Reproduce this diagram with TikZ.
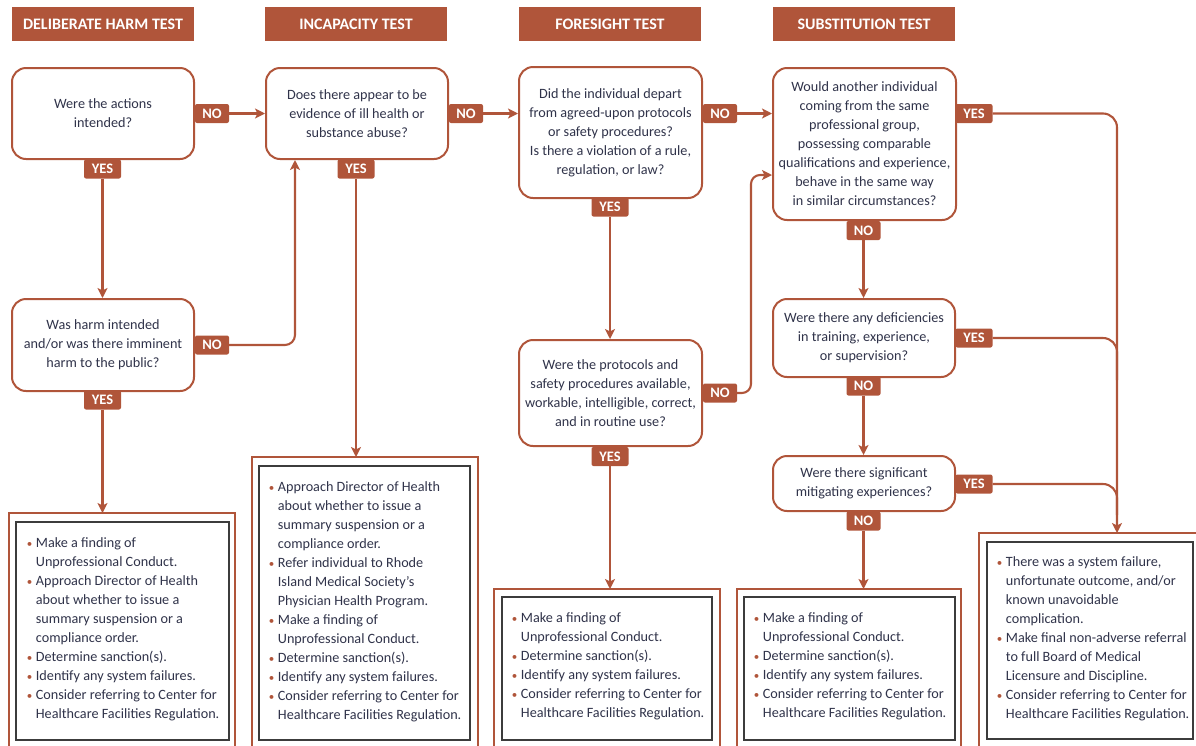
\documentclass[tikz,border=0pt]{standalone}
\usepackage{fontspec}
\setmainfont{Carlito}
\usetikzlibrary{arrows.meta,calc}
\definecolor{rust}{HTML}{B0553A}
\definecolor{ink}{HTML}{30334A}
\definecolor{dgray}{HTML}{3C3C3C}
\newcommand{\itemdot}{\makebox[9pt][l]{\textcolor{rust}{\fontsize{11}{11}\selectfont\textbullet}}}
\newcommand{\itemind}{\hspace*{9pt}}
\begin{document}
\begin{tikzpicture}[x=1pt,y=-1pt,
  dec/.style={draw=rust, line width=2pt, rounded corners=14pt, fill=white, align=center, inner sep=0pt, text=ink, font=\fontsize{14.2}{19}\selectfont},
  badge/.style={fill=rust, rounded corners=2pt, text=white, font=\bfseries\fontsize{14.5}{15}\selectfont, minimum height=19pt, inner sep=0pt},
  nob/.style={badge, minimum width=34pt},
  yesb/.style={badge, minimum width=37pt},
  hdr/.style={fill=rust, text=white, font=\bfseries\fontsize{16}{18}\selectfont, minimum width=182pt, minimum height=34pt, inner sep=0pt},
  conn/.style={draw=rust, line width=2.1pt},
  arr/.style={conn, -{Stealth[length=10pt,width=10pt,inset=2.5pt]}},
  outer/.style={draw=rust, line width=2pt},
  inbox/.style={draw=dgray, line width=2.6pt, fill=white, inner sep=0pt},
  otext/.style={align=left, inner sep=0pt, text=ink, font=\fontsize{14.2}{19}\selectfont}
]
\useasboundingbox (0,0) rectangle (1196,745);
\clip (0,0) rectangle (1196,745);

% headers
\node[hdr] (h1) at (103,24) {DELIBERATE HARM TEST};
\node[hdr] (h2) at (356,24) {INCAPACITY TEST};
\node[hdr] (h3) at (610,24) {FORESIGHT TEST};
\node[hdr] (h4) at (864,24) {SUBSTITUTION TEST};

% decision boxes
\node[dec, minimum width=182pt, minimum height=91pt] (A) at (103,113.5) {Were the actions\\intended?};
\node[dec, minimum width=182pt, minimum height=91pt] (B) at (357,113.5) {Does there appear to be\\evidence of ill health or\\substance abuse?};
\node[dec, minimum width=183pt, minimum height=131pt] (C) at (610.5,132.5) {Did the individual depart\\from agreed-upon protocols\\or safety procedures?\\Is there a violation of a rule,\\regulation, or law?};
\node[dec, minimum width=183pt, minimum height=152pt] (D) at (864.5,144) {Would another individual\\coming from the same\\professional group,\\possessing comparable\\qualifications and experience,\\behave in the same way\\in similar circumstances?};
\node[dec, minimum width=182pt, minimum height=92pt] (E) at (103,345) {Was harm intended\\and/or was there imminent\\harm to the public?};
\node[dec, minimum width=183pt, minimum height=106pt] (F) at (610.5,393) {Were the protocols and\\safety procedures available,\\workable, intelligible, correct,\\and in routine use?};
\node[dec, minimum width=182pt, minimum height=78pt] (G) at (864,338) {Were there any deficiencies\\in training, experience,\\or supervision?};
\node[dec, minimum width=182pt, minimum height=55pt] (H) at (864,483.5) {Were there significant\\mitigating experiences?};

% outcome boxes
\draw[outer] (9,750) |- (235,513) -- (235,750);
\draw[outer] (252,750) |- (478,457) -- (478,750);
\draw[outer] (494,750) |- (720,589) -- (720,750);
\draw[outer] (737,750) |- (961,589) -- (961,750);
\draw[outer] (979,750) |- (1205,533) -- (1205,750);

\node[inbox, minimum width=213pt, minimum height=218pt] (I1) at (122.5,631) {};
\node[inbox, minimum width=211pt, minimum height=274pt] (I2) at (364.5,603) {};
\node[inbox, minimum width=210pt, minimum height=143pt] (I3) at (607,668.5) {};
\node[inbox, minimum width=211pt, minimum height=143pt] (I4) at (849.5,668.5) {};
\node[inbox, minimum width=206pt, minimum height=197pt] (I5) at (1090,640.5) {};

\node[otext, anchor=west] (T1) at ($(I1.west)+(12,-2)$) {\itemdot Make a finding of\\\itemind Unprofessional Conduct.\\\itemdot Approach Director of Health\\\itemind about whether to issue a\\\itemind summary suspension or a\\\itemind compliance order.\\\itemdot Determine sanction(s).\\\itemdot Identify any system failures.\\\itemdot Consider referring to Center for\\\itemind Healthcare Facilities Regulation.};
\node[otext, anchor=west] (T2) at ($(I2.west)+(11,-1)$) {\itemdot Approach Director of Health\\\itemind about whether to issue a\\\itemind summary suspension or a\\\itemind compliance order.\\\itemdot Refer individual to Rhode\\\itemind Island Medical Society’s\\\itemind Physician Health Program.\\\itemdot Make a finding of\\\itemind Unprofessional Conduct.\\\itemdot Determine sanction(s).\\\itemdot Identify any system failures.\\\itemdot Consider referring to Center for\\\itemind Healthcare Facilities Regulation.};
\node[otext, anchor=west] (T3) at ($(I3.west)+(11,-2)$) {\itemdot Make a finding of\\\itemind Unprofessional Conduct.\\\itemdot Determine sanction(s).\\\itemdot Identify any system failures.\\\itemdot Consider referring to Center for\\\itemind Healthcare Facilities Regulation.};
\node[otext, anchor=west] (T4) at ($(I4.west)+(11,-2)$) {\itemdot Make a finding of\\\itemind Unprofessional Conduct.\\\itemdot Determine sanction(s).\\\itemdot Identify any system failures.\\\itemdot Consider referring to Center for\\\itemind Healthcare Facilities Regulation.};
\node[otext, anchor=west] (T5) at ($(I5.west)+(11,-2)$) {\itemdot There was a system failure,\\\itemind unfortunate outcome, and/or\\\itemind known unavoidable\\\itemind complication.\\\itemdot Make final non-adverse referral\\\itemind to full Board of Medical\\\itemind Licensure and Discipline.\\\itemdot Consider referring to Center for\\\itemind Healthcare Facilities Regulation.};

% arrow targets
\coordinate (o1) at (102.5,513);
\coordinate (o2) at (356,457);
\coordinate (o3) at (610,589);
\coordinate (o4) at (863.5,589);
\coordinate (o5) at (1117,533);
\coordinate (jG) at (1117,380);
\coordinate (jH) at (1117,515);

% badges
\node[nob] (nA) at (212,113.5) {NO};
\node[yesb] (yA) at (102.5,169) {YES};
\node[nob] (nE) at (212,345) {NO};
\node[yesb] (yE) at (102.5,400) {YES};
\node[nob] (nB) at (466,113.5) {NO};
\node[yesb] (yB) at (356,169) {YES};
\node[nob] (nC) at (720,113.5) {NO};
\node[yesb] (yC) at (610,207) {YES};
\node[nob] (nF) at (720,393) {NO};
\node[yesb] (yF) at (610,456.5) {YES};
\node[yesb] (yD) at (974,113.5) {YES};
\node[nob] (nD) at (863.5,230.5) {NO};
\node[yesb] (yG) at (974,338) {YES};
\node[nob] (nG) at (863.5,386) {NO};
\node[yesb] (yH) at (974,484) {YES};
\node[nob] (nH) at (863.5,521) {NO};

% connectors
\draw[arr] (nA.east) -- (nA.east -| B.west);
\draw[arr] (yA.south) -- (yA.south |- E.north);
\draw[arr, rounded corners=10pt] (nE.east) -| ($(B.south)+(-62,0)$);
\draw[arr] (yE.south) -- (o1);
\draw[arr] (nB.east) -- (nB.east -| C.west);
\draw[arr] (yB.south) -- (o2);
\draw[arr] (nC.east) -- (nC.east -| D.west);
\draw[arr] (yC.south) -- (yC.south |- F.north);
\draw[arr, rounded corners=9pt] (nF.east) -| ($(D.west)+(-21,31)$) -- ($(D.west)+(0,31)$);
\draw[arr] (yF.south) -- (o3);
\draw[arr, rounded corners=14pt] (yD.east) -| (o5);
\draw[arr] (nD.south) -- (nD.south |- G.north);
\draw[conn, rounded corners=14pt] (yG.east) -| (jG);
\draw[arr] (nG.south) -- (nG.south |- H.north);
\draw[conn, rounded corners=14pt] (yH.east) -| (jH);
\draw[arr] (nH.south) -- (o4);
\end{tikzpicture}
\end{document}
